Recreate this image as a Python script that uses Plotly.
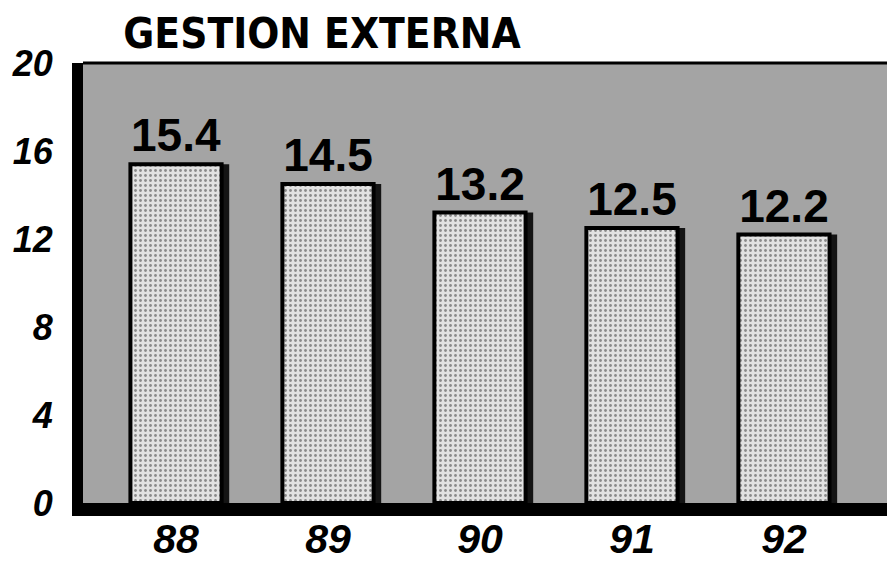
import plotly.graph_objects as go

years = ["88", "89", "90", "91", "92"]
values = [15.4, 14.5, 13.2, 12.5, 12.2]
value_labels = ["15.4", "14.5", "13.2", "12.5", "12.2"]
y_ticks = [0, 4, 8, 12, 16, 20]
title_text = "GESTION EXTERNA"

W, H = 887, 564
L, R, T, B = 83, 0, 63, 61

fig = go.Figure()

# shadow bars
fig.add_trace(go.Bar(
    x=list(range(len(years))), y=values,
    width=0.6, offset=-0.3 + 0.05,
    marker=dict(color="#141414", line=dict(width=0)),
    hoverinfo="skip", showlegend=False,
))
# main bars
fig.add_trace(go.Bar(
    x=list(range(len(years))), y=values,
    width=0.6, offset=-0.3,
    marker=dict(color="#dcdcdc", line=dict(color="#000000", width=4),
                pattern=dict(shape=".", fgcolor="#8a8a8a", bgcolor="#e2e2e2",
                             size=5, solidity=0.25)),
    text=value_labels, textposition="outside", cliponaxis=False,
    textfont=dict(family="Liberation Sans", size=46, color="#000000", weight="bold"),
    showlegend=False,
))

fig.update_layout(
    template="none",
    width=W, height=H,
    margin=dict(l=L, r=R, t=T, b=B, pad=0, autoexpand=False),
    paper_bgcolor="#ffffff",
    plot_bgcolor="#a4a4a4",
    barmode="overlay",
    title=dict(text=title_text, x=322 / W, xanchor="center", xref="container",
               y=1 - 33 / H, yanchor="middle", yref="container",
               font=dict(family="DejaVu Sans Condensed", size=42,
                         color="#000000", weight="bold")),
    xaxis=dict(
        range=[-0.612, 4.678], automargin=False,
        tickvals=list(range(len(years))), ticktext=years,
        showgrid=False, zeroline=False,
        showline=True, linecolor="#000000", linewidth=13,
        ticks="", ticklabelstandoff=-12,
        tickfont=dict(family="Liberation Sans", size=41, color="#000000", weight="bold", style="italic"),
    ),
    yaxis=dict(
        range=[0, 20], automargin=False,
        tickvals=y_ticks, ticktext=[str(v) for v in y_ticks],
        showgrid=False, zeroline=False,
        showline=True, linecolor="#000000", linewidth=11,
        ticks="", ticklabelstandoff=12,
        tickfont=dict(family="Liberation Sans", size=36, color="#000000", weight="bold", style="italic"),
    ),
    shapes=[
        dict(type="line", xref="paper", yref="paper", x0=0, x1=1, y0=1, y1=1,
             line=dict(color="#000000", width=3)),
    ],
)

fig.write_html("out.html", config={"displayModeBar": False},
               post_script="document.body.style.margin='0';document.body.style.overflow='hidden';")
